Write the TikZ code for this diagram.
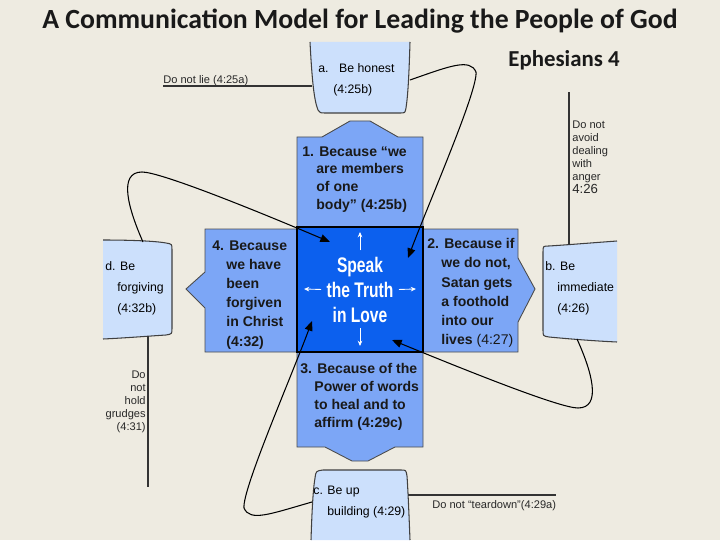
\documentclass[tikz,border=0pt]{standalone}
\usepackage{fontspec}
\setmainfont{Liberation Sans}
\newfontfamily\titlefont{Carlito}
\newfontfamily\narrowfont[FakeStretch=0.74]{Liberation Sans}
\usetikzlibrary{arrows.meta}

\definecolor{slidebg}{RGB}{238,235,225}
\definecolor{paleblue}{RGB}{204,224,252}
\definecolor{midblue}{RGB}{124,166,246}
\definecolor{deepblue}{RGB}{12,96,238}
\definecolor{inkgray}{RGB}{40,40,40}

\newcommand{\numgap}{\hspace*{8pt}}

\begin{document}
\begin{tikzpicture}[x=0.02cm, y=-0.02cm,
        heading/.style={font=\titlefont\bfseries\fontsize{15.8}{18}\selectfont, text=black!90, inner sep=0pt},
        reason/.style={font=\bfseries\fontsize{8}{#1}\selectfont, align=left, anchor=north west, inner sep=0pt, text=black!90},
        reason/.default=10.2,
        habit/.style={font=\fontsize{7}{11.9}\selectfont, align=left, anchor=north west, inner sep=0pt},
        note/.style={font=\fontsize{6.3}{7.3}\selectfont, inner sep=0pt, text=inkgray},
        motto/.style={font=\narrowfont\bfseries\fontsize{12}{13}\selectfont, text=white, anchor=base, inner sep=0pt},
        midbox/.style={fill=midblue, draw=black!70, line width=0.5pt},
        palebox/.style={fill=paleblue, draw=black!75, line width=0.6pt},
        cycleline/.style={-{Triangle[length=5.5pt,width=4.5pt]}, line width=0.6pt, black},
        noteline/.style={line width=0.6pt, black!80},
        spoke/.style={-{Stealth[length=3pt,width=2.6pt]}, white, line width=0.5pt}
    ]

    % backdrop
    \fill[slidebg] (0,0) rectangle (720,540);

    % headings
    \node[heading] (title) at (360,21) {A Communication Model for Leading the People of God};
    \node[heading, font=\titlefont\bfseries\fontsize{13}{15}\selectfont] (book) at (564,60) {Ephesians 4};

    % pale boxes (cut at the slide edge)
    \path[palebox] (310,42) .. controls (312,80) and (314,100) .. (318,110) .. controls (320,113) .. (326,113) -- (400,113) .. controls (405,113) .. (406,108) .. controls (408,95) and (409,75) .. (410,42);
    \path[palebox] (617,241) .. controls (590,243) and (565,245) .. (549,246) .. controls (543,246) .. (543,252) -- (543,330) .. controls (543,336) .. (549,337) .. controls (570,339) and (595,341) .. (617,342);
    \path[palebox] (311,540) .. controls (312,510) and (313,490) .. (315,478) .. controls (316,471) .. (323,470) -- (401,470) .. controls (406,470) .. (407,476) .. controls (408,490) and (409,515) .. (410,540);
    \path[palebox] (103,240) .. controls (130,240) and (155,241) .. (166,243) .. controls (172,244) .. (172,250) -- (172,328) .. controls (172,334) .. (166,335) .. controls (150,336) and (125,338) .. (103,339);

    % reason boxes
    \draw[midbox] (297,227) -- (297,137) -- (322,137) -- (350,121) -- (370,121) -- (398,137) -- (423,137) -- (423,227) -- cycle;
    \draw[midbox] (423,229) -- (518,229) -- (518,258) -- (535,289) -- (518,322) -- (518,352) -- (423,352) -- cycle;
    \draw[midbox] (297,352) -- (423,352) -- (423,447) -- (395,447) -- (368,461) -- (352,461) -- (325,447) -- (297,447) -- cycle;
    \draw[midbox] (297,229) -- (205,229) -- (205,272) -- (186,289) -- (205,308) -- (205,352) -- (297,352) -- cycle;

    % centre
    \draw[fill=deepblue, draw=black, line width=1pt] (297,227) rectangle (423,352);

    % attachment points
    \coordinate (aEast) at (410,80);
    \coordinate (aWest) at (312,86);
    \coordinate (bNorth) at (569,245);
    \coordinate (bSouth) at (577,339);
    \coordinate (cWest) at (312,502);
    \coordinate (cEast) at (408,495);
    \coordinate (dNorth) at (143,242);
    \coordinate (dSouth) at (148,336);
    \coordinate (hitNW) at (330,242);
    \coordinate (hitNE) at (408,258);
    \coordinate (hitSE) at (392,340);
    \coordinate (hitSW) at (312,321);
    \coordinate (angerTop) at (569,92);
    \coordinate (grudgeEnd) at (148,487);

    % reasons
    \node[reason] (why1) at (302,146) {1. Because “we\\\numgap are members\\\numgap of one\\\numgap body” (4:25b)};
    \node[reason=10.95] (why2) at (427,238) {2. Because if\\\numgap we do not,\\\numgap Satan gets\\\numgap a foothold\\\numgap into our\\\numgap lives \textmd{(4:27)}};
    \node[reason] (why3) at (300,363) {3. Because of the\\\numgap Power of words\\\numgap to heal and to\\\numgap affirm (4:29c)};
    \node[reason=10.95] (why4) at (212,240) {4. Because\\\numgap we have\\\numgap been\\\numgap forgiven\\\numgap in Christ\\\numgap (4:32)};

    % habits
    \node[habit] (honest) at (318,63) {a.\hspace{6pt}Be honest\\\hspace*{8.5pt}(4:25b)};
    \node[habit] (immediate) at (545,261) {b. Be\\\hspace*{6.8pt}immediate\\\hspace*{6.8pt}(4:26)};
    \node[habit] (upbuild) at (313,486) {c. Be up\\\hspace*{8pt}building (4:29)};
    \node[habit] (forgiving) at (105,261) {d. Be\\\hspace*{6.8pt}forgiving\\\hspace*{6.8pt}(4:32b)};

    % motto
    \node[motto] (speak) at (360,272) {Speak};
    \node[motto] (truth) at (360,297) {the Truth};
    \node[motto] (love) at (360,322) {in Love};
    \coordinate (upEnd) at (360,232);
    \coordinate (leftEnd) at (304,289);
    \coordinate (rightEnd) at (416,289);
    \coordinate (downEnd) at (360,346);
    \draw[spoke] ([yshift=3.4pt]speak.north) -- (upEnd);
    \draw[spoke] ([xshift=-3pt]truth.west) -- (leftEnd);
    \draw[spoke] ([xshift=3pt]truth.east) -- (rightEnd);
    \draw[spoke] ([yshift=-3pt]love.south) -- (downEnd);

    % notes
    \node[note, anchor=base west] (lie) at (163,84) {Do not lie (4:25a)};
    \node[note, align=left, anchor=north west] (anger) at (572,121) {Do not\\avoid\\dealing\\with\\anger\\{\fontsize{7.5}{8}\selectfont 4:26}};
    \node[note, align=right, anchor=north east] (grudges) at (146,371) {Do\\not\\hold\\grudges\\(4:31)};
    \node[note, anchor=base west] (teardown) at (432,508) {Do not “teardown”(4:29a)};

    \draw[noteline] (aWest) -- (aWest -| lie.west);
    \draw[noteline] (bNorth) -- (angerTop);
    \draw[noteline] (dSouth) -- (grudgeEnd);
    \draw[noteline] (cEast) -- (cEast -| teardown.east);

    % loops into the centre
    \draw[cycleline] (aEast) .. controls (450,66) and (470,58) .. (476,72) .. controls (478,90) and (430,200) .. (hitNE);
    \draw[cycleline] (bSouth) .. controls (592,372) and (602,408) .. (578,408) .. controls (560,408) and (470,372) .. (hitSE);
    \draw[cycleline] (cWest) .. controls (270,514) and (250,522) .. (244,508) .. controls (242,490) and (290,380) .. (hitSW);
    \draw[cycleline] (dNorth) .. controls (128,208) and (118,172) .. (142,172) .. controls (160,172) and (250,208) .. (hitNW);

\end{tikzpicture}
\end{document}
